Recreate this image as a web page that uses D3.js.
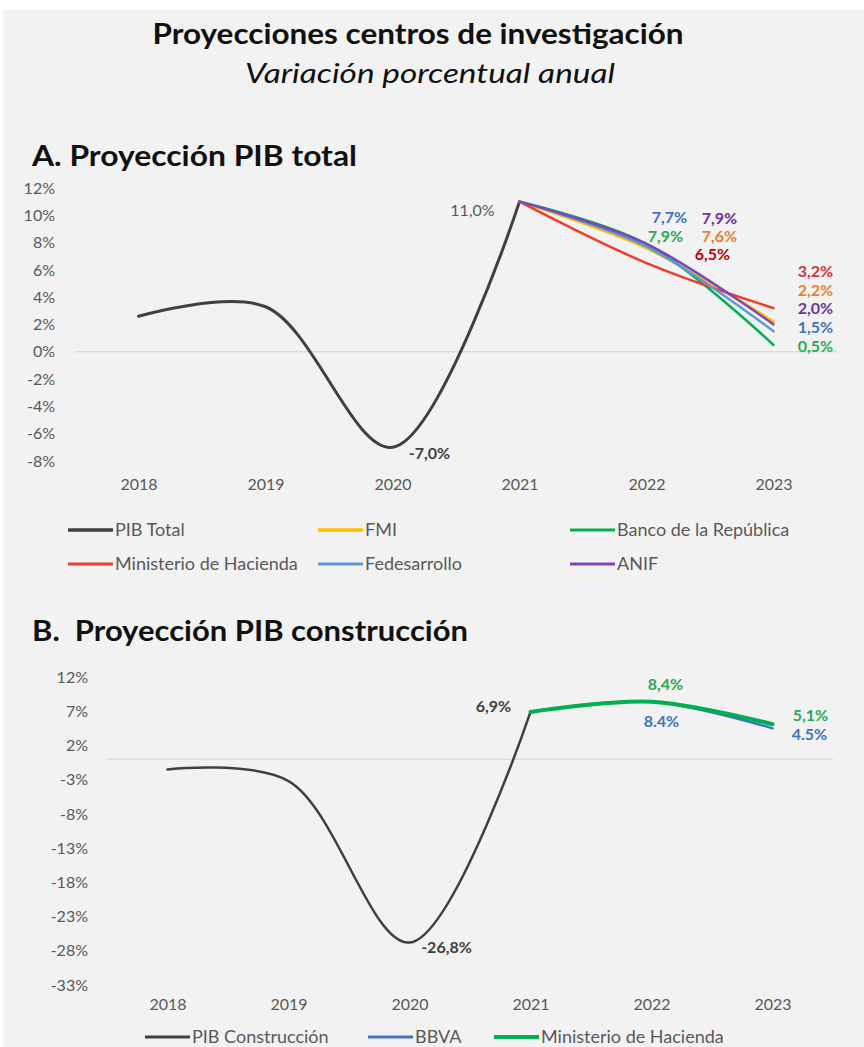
<!DOCTYPE html>
<html>
<head>
<meta charset="utf-8">
<script src="https://cdn.jsdelivr.net/npm/d3@7"></script>
<style>
  html, body { margin: 0; padding: 0; background: #ffffff; }
  svg { display: block; }
  text { font-family: Lato, "Open Sans", sans-serif; }
</style>
</head>
<body>
<svg id="chart" width="864" height="1047"></svg>
<script>
// ---- data ----
const years = ['2018', '2019', '2020', '2021', '2022', '2023'];

// A. PIB total
const pibTotal = [2.6, 3.3, -7.0, 11.0];
const fmi = [11.0, 7.6, 2.2];
const banrep = [11.0, 7.9, 0.5];
const minHacienda = [11.0, 6.5, 3.2];
const fedesarrollo = [11.0, 7.7, 1.5];
const anif = [11.0, 7.9, 2.0];
const ticksA = [12, 10, 8, 6, 4, 2, 0, -2, -4, -6, -8];

// B. PIB construcción
const pibConstruccion = [-1.5, -3.2, -26.8, 6.9];
const bbva = [6.9, 8.4, 4.5];
const minHaciendaCons = [6.9, 8.4, 5.1];
const ticksB = [12, 7, 2, -3, -8, -13, -18, -23, -28, -33];

const svg = d3.select('#chart');

// background panel
svg.append('rect')
  .attr('x', 3).attr('y', 10)
  .attr('width', 861).attr('height', 1037)
  .attr('fill', '#f2f2f2');

// titles (stretched a bit to match the wide original face)
function title(txt, x, y, size, width, opts = {}) {
  svg.append('text')
    .attr('x', x).attr('y', y)
    .attr('text-anchor', opts.anchor || 'start')
    .attr('font-size', size)
    .attr('font-weight', opts.italic ? 'normal' : 'bold')
    .attr('font-style', opts.italic ? 'italic' : 'normal')
    .attr('fill', '#111')
    .attr('textLength', width)
    .attr('lengthAdjust', 'spacingAndGlyphs')
    .attr('xml:space', 'preserve')
    .text(txt);
}
title('Proyecciones centros de investigación', 418, 44, 28, 531, { anchor: 'middle' });
title('Variación porcentual anual', 430, 83, 27, 370, { anchor: 'middle', italic: true });
title('A. Proyección PIB total', 32, 166, 29, 325);
title('B.  Proyección PIB construcción', 32, 641, 29, 436);

const fmtLabel = (v, sep) => v.toFixed(1).replace('.', sep) + '%';

// draws one panel
function drawPanel(cfg) {
  const x = d3.scalePoint().domain(years).range(cfg.xRange).padding(0.5);
  const y = d3.scaleLinear().domain(cfg.yDomain).range(cfg.yRange);
  const g = svg.append('g');

  // y axis labels
  const yAxis = d3.axisLeft(y)
    .tickValues(cfg.ticks)
    .tickSize(0)
    .tickPadding(0)
    .tickFormat(d => d + '%');
  g.append('g')
    .attr('transform', `translate(${cfg.yLabelX},0)`)
    .call(yAxis)
    .call(a => a.select('.domain').remove())
    .selectAll('text')
    .attr('font-family', 'Lato, "Open Sans", sans-serif')
    .attr('font-size', 16)
    .attr('fill', '#595959');

  // x axis labels
  const xAxis = d3.axisBottom(x).tickSize(0).tickPadding(0);
  g.append('g')
    .attr('transform', `translate(0,${cfg.xLabelY})`)
    .call(xAxis)
    .call(a => a.select('.domain').remove())
    .selectAll('text')
    .attr('font-family', 'Lato, "Open Sans", sans-serif')
    .attr('font-size', 16)
    .attr('fill', '#595959');

  // zero line
  g.append('line')
    .attr('x1', cfg.xRange[0]).attr('x2', cfg.xRange[1])
    .attr('y1', y(0)).attr('y2', y(0))
    .attr('stroke', '#d0d0d0').attr('stroke-width', 1);

  // smoothed lines (centripetal spline, close to Excel's smoothing)
  const line = d3.line()
    .x(d => x(d.year))
    .y(d => y(d.value))
    .curve(d3.curveCatmullRom.alpha(0.5));

  cfg.series.forEach(s => {
    const pts = s.values.map((v, i) => ({ year: years[s.start + i], value: v }));
    g.append('path')
      .datum(pts)
      .attr('d', line)
      .attr('fill', 'none')
      .attr('stroke', s.color)
      .attr('stroke-width', s.width)
      .attr('stroke-linecap', 'round');
  });

  // data labels
  cfg.labels.forEach(l => {
    const s = cfg.series[l.series];
    const i = years.indexOf(l.year) - s.start;
    const v = s.values[i];
    g.append('text')
      .attr('x', x(l.year) + l.dx)
      .attr('y', y(v) + l.dy)
      .attr('dy', '0.35em')
      .attr('text-anchor', 'middle')
      .attr('font-size', 16)
      .attr('font-weight', l.bold ? 'bold' : 'normal')
      .attr('fill', l.color)
      .text(fmtLabel(v, l.sep || ','));
  });

  // legend
  cfg.legend.forEach(item => {
    const s = cfg.series[item.series];
    g.append('line')
      .attr('x1', item.x).attr('x2', item.x + 45)
      .attr('y1', item.y).attr('y2', item.y)
      .attr('stroke', s.color)
      .attr('stroke-width', Math.min(s.width + 0.5, 4));
    g.append('text')
      .attr('x', item.x + 47).attr('y', item.y)
      .attr('dy', '0.35em')
      .attr('font-size', 18)
      .attr('fill', '#595959')
      .text(s.name);
  });
}

drawPanel({
  xRange: [75, 837],
  yDomain: [-8, 12],
  yRange: [461, 188],
  ticks: ticksA,
  yLabelX: 55,
  xLabelY: 479,
  series: [
    { name: 'PIB Total', values: pibTotal, start: 0, color: '#404040', width: 3 },
    { name: 'FMI', values: fmi, start: 3, color: '#FFC000', width: 3 },
    { name: 'Banco de la República', values: banrep, start: 3, color: '#00B050', width: 2.5 },
    { name: 'Ministerio de Hacienda', values: minHacienda, start: 3, color: '#F03C2E', width: 2.5 },
    { name: 'Fedesarrollo', values: fedesarrollo, start: 3, color: '#5B9BD5', width: 2.5 },
    { name: 'ANIF', values: anif, start: 3, color: '#7F45C0', width: 2.5 }
  ],
  labels: [
    { series: 0, year: '2021', dx: -47, dy: 9, color: '#595959', bold: false },
    { series: 0, year: '2020', dx: 37, dy: 6, color: '#404040', bold: true },
    { series: 4, year: '2022', dx: 23, dy: -29, color: '#3F74C0', bold: true },
    { series: 5, year: '2022', dx: 73, dy: -26, color: '#7030A0', bold: true },
    { series: 2, year: '2022', dx: 19, dy: -8, color: '#2AAA55', bold: true },
    { series: 1, year: '2022', dx: 73, dy: -12, color: '#ED7D31', bold: true },
    { series: 3, year: '2022', dx: 66, dy: -9, color: '#C00000', bold: true },
    { series: 3, year: '2023', dx: 42, dy: -36.5, color: '#D0343A', bold: true },
    { series: 1, year: '2023', dx: 42, dy: -31.5, color: '#ED7D31', bold: true },
    { series: 5, year: '2023', dx: 42, dy: -16, color: '#7030A0', bold: true },
    { series: 4, year: '2023', dx: 42, dy: -4, color: '#3F74C0', bold: true },
    { series: 2, year: '2023', dx: 42, dy: 1, color: '#2AAA55', bold: true }
  ],
  legend: [
    { series: 0, x: 68, y: 530 },
    { series: 1, x: 318, y: 530 },
    { series: 2, x: 570, y: 530 },
    { series: 3, x: 68, y: 564 },
    { series: 4, x: 318, y: 564 },
    { series: 5, x: 570, y: 564 }
  ]
});

drawPanel({
  xRange: [107, 833],
  yDomain: [-33, 12],
  yRange: [985, 677],
  ticks: ticksB,
  yLabelX: 88,
  xLabelY: 999,
  series: [
    { name: 'PIB Construcción', values: pibConstruccion, start: 0, color: '#404040', width: 2.5 },
    { name: 'BBVA', values: bbva, start: 3, color: '#4472C4', width: 2.5 },
    { name: 'Ministerio de Hacienda', values: minHaciendaCons, start: 3, color: '#00B050', width: 4 }
  ],
  labels: [
    { series: 0, year: '2021', dx: -37, dy: -6, color: '#404040', bold: true },
    { series: 0, year: '2020', dx: 37, dy: 5, color: '#404040', bold: true },
    { series: 2, year: '2022', dx: 14, dy: -17, color: '#2AAA55', bold: true },
    { series: 1, year: '2022', dx: 10, dy: 20, color: '#3F74C0', bold: true, sep: '.' },
    { series: 2, year: '2023', dx: 38, dy: -9, color: '#2AAA55', bold: true },
    { series: 1, year: '2023', dx: 37, dy: 6, color: '#3F74C0', bold: true, sep: '.' }
  ],
  legend: [
    { series: 0, x: 145, y: 1037 },
    { series: 1, x: 368, y: 1037 },
    { series: 2, x: 494, y: 1037 }
  ]
});
</script>
</body>
</html>
